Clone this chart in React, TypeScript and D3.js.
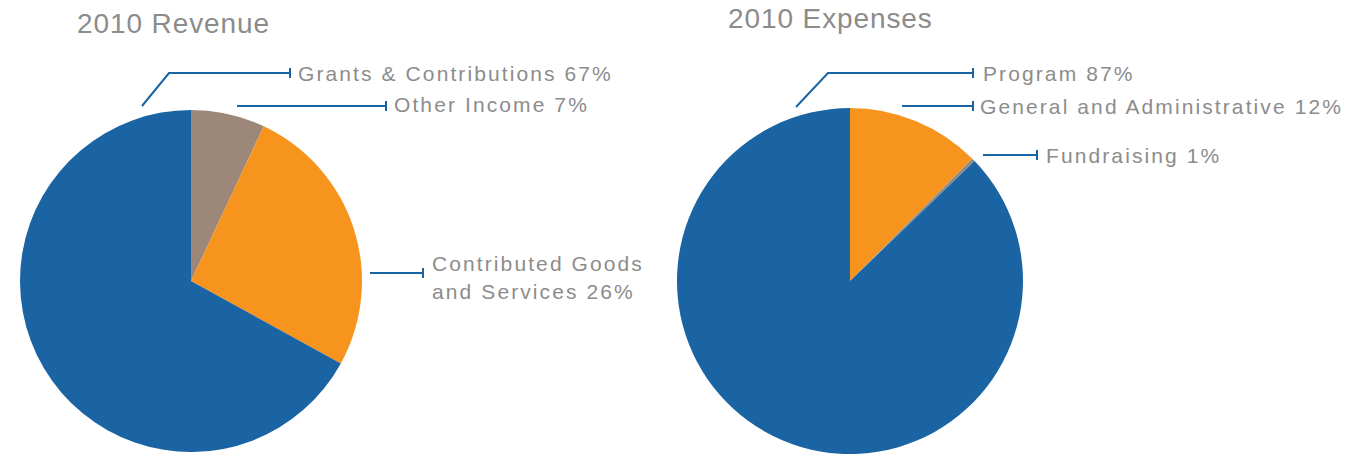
import * as React from 'react';
import * as d3 from 'd3';

// revenue slices, clockwise from 12 o'clock
const revenueNames = ['Other Income', 'Contributed Goods and Services', 'Grants & Contributions'];
const revenueValues = [7, 26, 67];
const revenueLabels = [['Other Income 7%'], ['Contributed Goods', 'and Services 26%'], ['Grants & Contributions 67%']];

// expense slices, clockwise from 12 o'clock (arc sizes as drawn)
const expenseNames = ['General and Administrative', 'Fundraising', 'Program'];
const expenseValues = [12.5, 0.3, 87.2];
const expenseLabels = [['General and Administrative 12%'], ['Fundraising 1%'], ['Program 87%']];

const BLUE = '#1a64a4';
const TEXT = '#8c8c8c';
const FONT = 'Liberation Sans, Arial, sans-serif';

interface Leader {
  pts: [number, number][];
  tx: number;
  ty: number;
}

// leader line layout per slice (same order as the data)
const revenueLeaders: Leader[] = [
  { pts: [[237, 106], [386, 106]], tx: 394, ty: 104 },
  { pts: [[370, 273], [423, 273]], tx: 432, ty: 263 },
  { pts: [[142, 106], [169, 73], [290, 73]], tx: 298, ty: 73 },
];
const expenseLeaders: Leader[] = [
  { pts: [[902, 106], [973, 106]], tx: 980, ty: 106 },
  { pts: [[983, 155], [1037, 155]], tx: 1046, ty: 155 },
  { pts: [[796, 107], [828, 73], [973, 73]], tx: 983, ty: 73 },
];

interface PieProps {
  cx: number;
  cy: number;
  r: number;
  names: string[];
  values: number[];
  labels: string[][];
  colors: string[];
  leaders: Leader[];
  title: string;
  titleX: number;
  titleY: number;
}

function Pie(p: PieProps) {
  const color = d3.scaleOrdinal<string, string>().domain(p.names).range(p.colors);
  const arcs = d3.pie<number>().sort(null).value(d => d)(p.values);
  const arc = d3.arc<d3.PieArcDatum<number>>().innerRadius(0).outerRadius(p.r);
  const line = d3.line();
  return (
    <g>
      <text x={p.titleX} y={p.titleY} fill={TEXT} fontSize={28} letterSpacing={0.9}
        fontFamily={FONT}>{p.title}</text>
      <g transform={`translate(${p.cx},${p.cy})`}>
        {arcs.map((a, i) => (
          <path key={i} d={arc(a) || ''} fill={color(p.names[i])} />
        ))}
      </g>
      {p.leaders.map((l, i) => {
        const end = l.pts[l.pts.length - 1];
        return (
          <g key={i}>
            <path d={line(l.pts) || ''} fill="none" stroke={BLUE} strokeWidth={2} />
            <line x1={end[0]} x2={end[0]} y1={end[1] - 5} y2={end[1] + 5} stroke={BLUE} strokeWidth={2} />
            <text x={l.tx} y={l.ty} fill={TEXT} fontSize={21} letterSpacing={2.1}
              fontFamily={FONT}>
              {p.labels[i].map((s, j) => (
                <tspan key={j} x={l.tx} dy={j === 0 ? 7.5 : 28}>{s}</tspan>
              ))}
            </text>
          </g>
        );
      })}
    </g>
  );
}

export default function App() {
  return (
    <svg width={1347} height={454} style={{ position: 'absolute', left: 0, top: 0, background: '#fff' }}>
      <Pie cx={191} cy={281} r={171} names={revenueNames} values={revenueValues} labels={revenueLabels}
        colors={['#9c8778', '#f7941e', BLUE]} leaders={revenueLeaders}
        title="2010 Revenue" titleX={77} titleY={33} />
      <Pie cx={850} cy={281} r={173} names={expenseNames} values={expenseValues} labels={expenseLabels}
        colors={['#f7941e', '#8f8a86', BLUE]} leaders={expenseLeaders}
        title="2010 Expenses" titleX={728} titleY={28} />
    </svg>
  );
}
